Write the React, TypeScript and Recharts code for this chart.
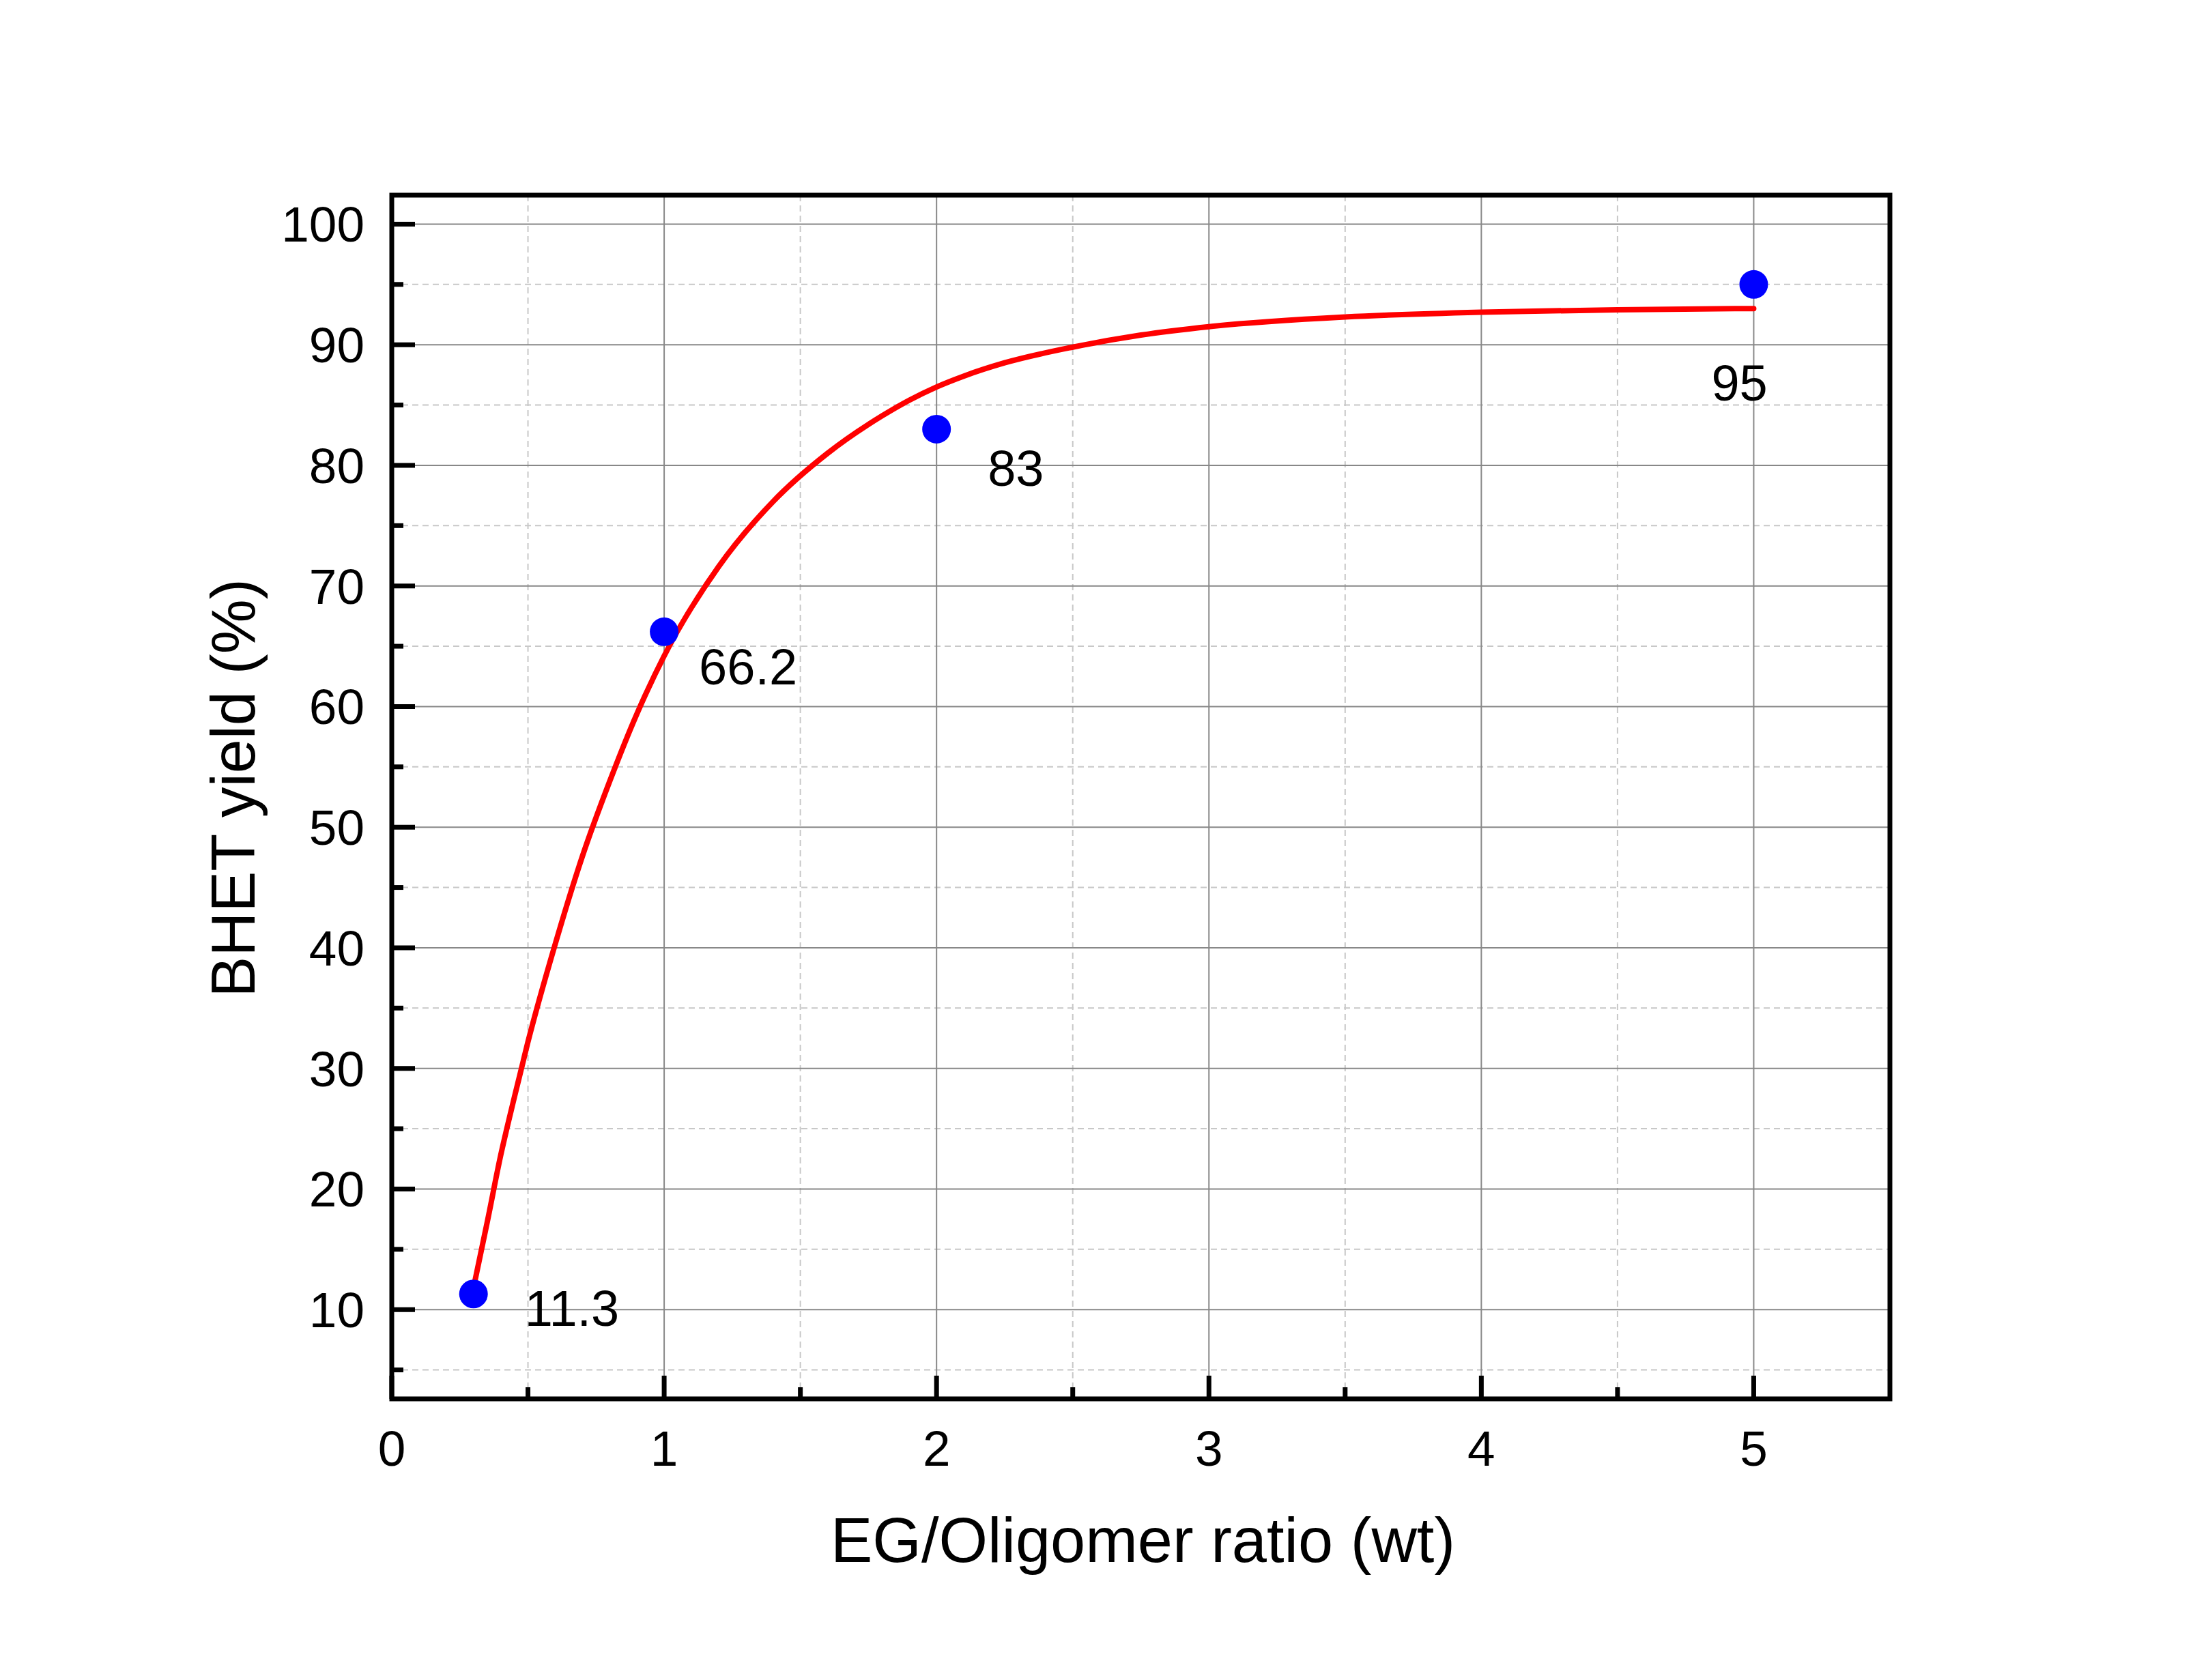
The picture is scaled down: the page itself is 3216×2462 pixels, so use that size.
import React from 'react';
import {
  ComposedChart,
  Line,
  Scatter,
  XAxis,
  YAxis,
  CartesianGrid,
  ReferenceArea,
  Label,
} from 'recharts';

// measured yields
const ratio = [0.3, 1, 2, 5];
const yieldPct = [11.3, 66.2, 83, 95];

// fitted curve
const fitRatio = [
  0.3, 0.35, 0.4, 0.45, 0.5, 0.6, 0.7, 0.8, 0.9, 1.0, 1.2, 1.4, 1.6, 1.8, 1.9,
  2, 2.1, 2.25, 2.5, 2.75, 3, 3.5, 4, 4.5, 5,
];
const fitYield = [
  11.8, 17.2, 22.8, 27.6, 32.2, 40.3, 47.6, 53.8, 59.4, 64.2, 71.6, 77.0, 81.0, 84.1, 85.4,
  86.5, 87.4, 88.5, 89.8, 90.8, 91.5, 92.3, 92.7, 92.9, 93.0,
];

const xTicks = [0, 0.5, 1, 1.5, 2, 2.5, 3, 3.5, 4, 4.5, 5];
const yTicks = [5, 10, 15, 20, 25, 30, 35, 40, 45, 50, 55, 60, 65, 70, 75, 80, 85, 90, 95, 100];
const xMajor = [1, 2, 3, 4, 5];
const xMinor = [0.5, 1.5, 2.5, 3.5, 4.5];
const yMajor = [10, 20, 30, 40, 50, 60, 70, 80, 90, 100];
const yMinor = [5, 15, 25, 35, 45, 55, 65, 75, 85, 95];

const X_DOMAIN = [0, 5.5];
const Y_DOMAIN = [2.6, 102.4];

// label offsets from point centre (left edge, baseline)
const LABEL_OFFSET = [
  [75, 47],
  [51, 77],
  [75, 83],
  [-62, 170],
];

const FONT = '"Liberation Sans", Arial, Helvetica, sans-serif';

const points = ratio.map((x, i) => ({ x, y: yieldPct[i], i }));
const fit = fitRatio.map((x, i) => ({ x, y: fitYield[i] }));

const XTick = (props: any) => {
  const { x, y, payload } = props;
  const major = Number.isInteger(payload.value);
  return (
    <g>
      <line x1={x} x2={x} y1={y} y2={y - (major ? 34 : 17)} stroke="#000" strokeWidth={7} />
      {major && (
        <text x={x} y={y + 98} textAnchor="middle" fontSize={73} fontFamily={FONT} fill="#000">
          {payload.value}
        </text>
      )}
    </g>
  );
};

const YTick = (props: any) => {
  const { x, y, payload } = props;
  const major = payload.value % 10 === 0;
  return (
    <g>
      <line x1={x} x2={x + (major ? 34 : 17)} y1={y} y2={y} stroke="#000" strokeWidth={7} />
      {major && (
        <text x={x - 40} y={y + 26} textAnchor="end" fontSize={73} fontFamily={FONT} fill="#000">
          {payload.value}
        </text>
      )}
    </g>
  );
};

const Dot = (props: any) => {
  const { cx, cy, payload } = props;
  const [dx, dy] = LABEL_OFFSET[payload.i];
  return (
    <g>
      <circle cx={cx} cy={cy} r={21} fill="#0000ff" />
      <text x={cx + dx} y={cy + dy} fontSize={74} fontFamily={FONT} fill="#000">
        {payload.y}
      </text>
    </g>
  );
};

export default function App() {
  return (
    <div style={{ position: 'absolute', left: 0, top: 0, width: 3216, height: 2462, background: '#fff' }}>
      <ComposedChart
        width={3216}
        height={2462}
        margin={{ top: 286, right: 447, bottom: 312, left: 474 }}
      >
        <CartesianGrid
          horizontalValues={yMinor}
          verticalValues={xMinor}
          stroke="#c8c8c8"
          strokeWidth={2}
          strokeDasharray="9 6"
        />
        <CartesianGrid
          horizontalValues={yMajor}
          verticalValues={xMajor}
          stroke="#888888"
          strokeWidth={2}
        />
        <XAxis
          dataKey="x"
          type="number"
          domain={X_DOMAIN}
          ticks={xTicks}
          interval={0}
          allowDataOverflow
          tick={<XTick />}
          tickLine={false}
          axisLine={false}
          tickSize={0}
          tickMargin={0}
          height={100}
        >
          <Label
            content={(p: any) => {
              const vb = p.viewBox;
              return (
                <text
                  x={vb.x + vb.width / 2 + 3}
                  y={vb.y + 239}
                  textAnchor="middle"
                  fontSize={92}
                  fontFamily={FONT}
                  fill="#000"
                >
                  EG/Oligomer ratio (wt)
                </text>
              );
            }}
          />
        </XAxis>
        <YAxis
          dataKey="y"
          type="number"
          domain={Y_DOMAIN}
          ticks={yTicks}
          interval={0}
          allowDataOverflow
          tick={<YTick />}
          tickLine={false}
          axisLine={false}
          tickSize={0}
          tickMargin={0}
          width={100}
        >
          <Label
            content={(p: any) => {
              const vb = p.viewBox;
              const cy = vb.y + vb.height / 2 - 13;
              return (
                <text
                  x={373}
                  y={cy}
                  transform={`rotate(-90 373 ${cy})`}
                  textAnchor="middle"
                  fontSize={90}
                  fontFamily={FONT}
                  fill="#000"
                >
                  BHET yield (%)
                </text>
              );
            }}
          />
        </YAxis>
        <ReferenceArea
          x1={X_DOMAIN[0]}
          x2={X_DOMAIN[1]}
          y1={Y_DOMAIN[0]}
          y2={Y_DOMAIN[1]}
          ifOverflow="visible"
          fill="none"
          stroke="#000"
          strokeWidth={7}
          fillOpacity={0}
        />
        <Scatter data={points} dataKey="y" shape={<Dot />} isAnimationActive={false} />
        <Line
          data={fit}
          dataKey="y"
          type="monotone"
          stroke="#ff0000"
          strokeWidth={8}
          strokeLinecap="round"
          strokeLinejoin="round"
          dot={false}
          activeDot={false}
          isAnimationActive={false}
        />
      </ComposedChart>
    </div>
  );
}
